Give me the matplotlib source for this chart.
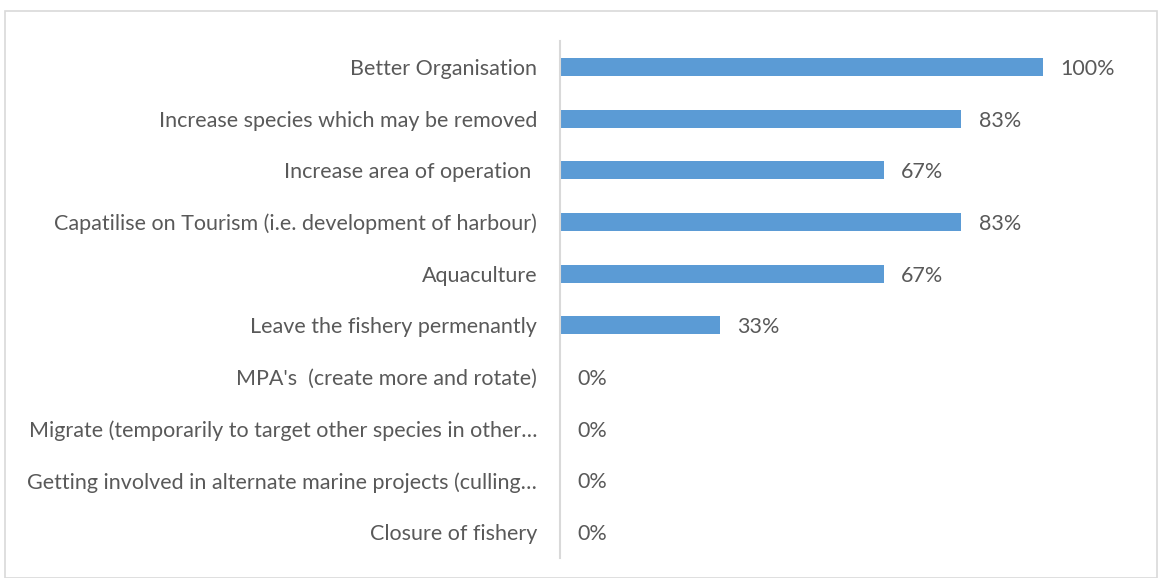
import matplotlib
matplotlib.use("Agg")
import matplotlib.pyplot as plt
from matplotlib.patches import Rectangle

plt.rcParams["font.family"] = ["Lato", "DejaVu Sans"]

categories = [
    "Better Organisation",
    "Increase species which may be removed",
    "Increase area of operation ",
    "Capatilise on Tourism (i.e. development of harbour)",
    "Aquaculture",
    "Leave the fishery permenantly",
    "MPA's  (create more and rotate)",
    "Migrate (temporarily to target other species in other\u2026",
    "Getting involved in alternate marine projects (culling\u2026",
    "Closure of fishery",
]
shares = [1.00, 0.83, 0.67, 0.83, 0.67, 0.33, 0.0, 0.0, 0.0, 0.0]

BAR_COLOR = "#5B9BD5"
TEXT_COLOR = "#595959"
AXIS_COLOR = "#D9D9D9"
FONT_SIZE = 15.5

W, H = 1158, 578
fig = plt.figure(figsize=(W / 100, H / 100), dpi=100)
ax = fig.add_axes([560 / W, 1 - 558 / H, 580 / W, 517 / H])

ypos = list(range(len(categories)))
ax.barh(ypos, shares, height=0.35, color=BAR_COLOR)
ax.set_xlim(0, 1.2)
ax.set_ylim(len(categories) - 0.5, -0.5)

for y, v in zip(ypos, shares):
    ax.annotate(f"{v:.0%}", xy=(v, y), xytext=(12.5, 0), textcoords="offset points",
                ha="left", va="center_baseline", fontsize=FONT_SIZE, color=TEXT_COLOR)

ax.set_yticks(ypos)
ax.set_yticklabels(categories, fontsize=FONT_SIZE, color=TEXT_COLOR)
ax.tick_params(axis="y", length=0, pad=16.5)
ax.set_xticks([])
for side in ("top", "right", "bottom"):
    ax.spines[side].set_visible(False)
ax.spines["left"].set_color(AXIS_COLOR)
ax.spines["left"].set_linewidth(1.5)

# light frame round the chart area
fig.patches.append(Rectangle((5 / W, 0), (W - 6) / W, 1 - 11 / H,
                             transform=fig.transFigure, fill=False,
                             edgecolor="#D9D9D9", linewidth=1.2))

fig.savefig("out.png", dpi=100)
